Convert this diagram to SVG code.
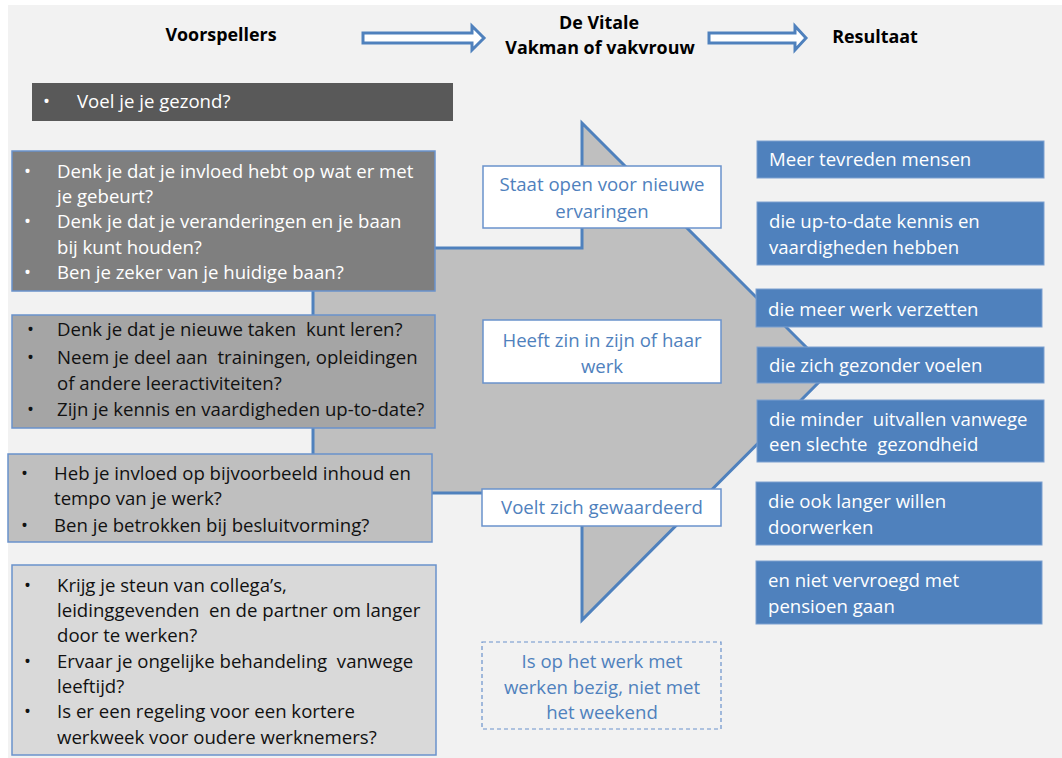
<svg xmlns="http://www.w3.org/2000/svg" width="1062" height="758" viewBox="0 0 1062 758">
<style>
  text { font-family: "Open Sans", "Liberation Sans", sans-serif; font-size: 18.6px; }
  .hd { font-weight: bold; font-size: 17.9px; fill: #000; text-anchor: middle; }
  .w { fill: #ffffff; }
  .k { fill: #111111; }
  .b { fill: #4f81bd; text-anchor: middle; }
  .res rect { fill: #4f81bd; stroke: #7da0d0; stroke-width: 1; }
  .mid rect { fill: #ffffff; stroke: #6a92cc; stroke-width: 1.5; }
  .lb { stroke: #6a92cc; stroke-width: 1.5; }
</style>
<rect x="0" y="0" width="1062" height="758" fill="#ffffff"/>
<rect x="8" y="5" width="1054" height="753" fill="#f2f2f2"/>

<g id="header">
  <text class="hd" x="221" y="41">Voorspellers</text>
  <text class="hd" x="599" y="29">De Vitale</text>
  <text class="hd" x="600" y="54">Vakman of vakvrouw</text>
  <text class="hd" x="875" y="43">Resultaat</text>
</g>

<g id="connectors" fill="#ffffff" stroke="#4f81bd" stroke-width="3" stroke-linejoin="miter">
  <path d="M363,33 H472 V26 L484,38 L472,50 V43 H363 Z"/>
  <path d="M709,33 H795 V26 L806,38 L795,50 V43 H709 Z"/>
</g>

<g id="big-arrow">
  <path d="M313,248 H582 V123 L830,371 L582,620 V493 H313 Z" fill="#bfbfbf" stroke="#4f81bd" stroke-width="3"/>
</g>

<g id="q-gezond">
  <rect x="32" y="83" width="421" height="38" fill="#595959"/>
  <text class="w" x="43" y="108">•</text>
  <text class="w" x="77" y="108">Voel je je gezond?</text>
</g>

<g id="q-box1">
  <rect class="lb" x="12" y="151" width="423" height="140" fill="#7f7f7f"/>
  <text class="w" x="24" y="178">•</text>
  <text class="w" x="57" y="178">Denk je dat je invloed hebt op wat er met</text>
  <text class="w" x="57" y="203">je gebeurt?</text>
  <text class="w" x="24" y="228">•</text>
  <text class="w" x="57" y="228">Denk je dat je veranderingen en je baan</text>
  <text class="w" x="57" y="254">bij kunt houden?</text>
  <text class="w" x="24" y="279">•</text>
  <text class="w" x="57" y="279">Ben je zeker van je huidige baan?</text>
</g>

<g id="q-box2">
  <rect class="lb" x="12" y="315" width="423" height="113" fill="#a5a5a5"/>
  <text class="k" x="27" y="336">•</text>
  <text class="k" x="57" y="336">Denk je dat je  nieuwe taken&#160; kunt leren?</text>
  <text class="k" x="27" y="364">•</text>
  <text class="k" x="57" y="364">Neem je deel aan&#160; trainingen, opleidingen</text>
  <text class="k" x="57" y="390">of andere leeractiviteiten?</text>
  <text class="k" x="27" y="416">•</text>
  <text class="k" x="57" y="416">Zijn je kennis en vaardigheden up-to-date?</text>
</g>

<g id="q-box3">
  <rect class="lb" x="8" y="454" width="424" height="88" fill="#bfbfbf"/>
  <text class="k" x="21" y="480">•</text>
  <text class="k" x="54" y="480">Heb je invloed op bijvoorbeeld inhoud en</text>
  <text class="k" x="54" y="505">tempo van je werk?</text>
  <text class="k" x="21" y="532">•</text>
  <text class="k" x="54" y="532">Ben je betrokken bij besluitvorming?</text>
</g>

<g id="q-box4">
  <rect class="lb" x="12" y="565" width="424" height="190" fill="#d9d9d9"/>
  <text class="k" x="24" y="592">•</text>
  <text class="k" x="57" y="592">Krijg je steun van collega’s,</text>
  <text class="k" x="57" y="617">leidinggevenden&#160; en de partner om langer</text>
  <text class="k" x="57" y="642">door te werken?</text>
  <text class="k" x="24" y="668">•</text>
  <text class="k" x="57" y="668">Ervaar je ongelijke behandeling&#160; vanwege</text>
  <text class="k" x="57" y="693">leeftijd?</text>
  <text class="k" x="24" y="718">•</text>
  <text class="k" x="57" y="718">Is er een regeling voor een kortere</text>
  <text class="k" x="57" y="744">werkweek voor oudere werknemers?</text>
</g>

<g id="mid-open" class="mid">
  <rect x="483" y="166" width="238" height="62"/>
  <text class="b" x="602" y="191">Staat open voor nieuwe</text>
  <text class="b" x="602" y="218">ervaringen</text>
</g>
<g id="mid-zin" class="mid">
  <rect x="483" y="320" width="238" height="63"/>
  <text class="b" x="602" y="347">Heeft zin in zijn of haar</text>
  <text class="b" x="602" y="373">werk</text>
</g>
<g id="mid-gewaardeerd" class="mid">
  <rect x="482" y="489" width="239" height="37"/>
  <text class="b" x="602" y="514">Voelt zich gewaardeerd</text>
</g>
<g id="mid-werk">
  <rect x="482" y="642" width="239" height="87" fill="none" stroke="#6a92cc" stroke-width="1.2" stroke-dasharray="4,3"/>
  <text class="b" x="602" y="668">Is op het werk met</text>
  <text class="b" x="602" y="694">werken bezig, niet met</text>
  <text class="b" x="602" y="719">het weekend</text>
</g>

<g id="res-1" class="res">
  <rect x="757" y="141" width="287" height="37"/>
  <text class="w" x="769" y="166">Meer tevreden mensen</text>
</g>
<g id="res-2" class="res">
  <rect x="757" y="202" width="287" height="63"/>
  <text class="w" x="769" y="228">die up-to-date kennis en</text>
  <text class="w" x="769" y="254">vaardigheden hebben</text>
</g>
<g id="res-3" class="res">
  <rect x="756" y="289" width="286" height="38"/>
  <text class="w" x="768" y="316">die meer werk verzetten</text>
</g>
<g id="res-4" class="res">
  <rect x="757" y="347" width="287" height="36"/>
  <text class="w" x="769" y="372">die zich gezonder voelen</text>
</g>
<g id="res-5" class="res">
  <rect x="757" y="400" width="287" height="62"/>
  <text class="w" x="769" y="426">die minder&#160; uitvallen vanwege</text>
  <text class="w" x="769" y="451">een slechte&#160; gezondheid</text>
</g>
<g id="res-6" class="res">
  <rect x="756" y="482" width="286" height="63"/>
  <text class="w" x="768" y="508">die ook langer willen</text>
  <text class="w" x="768" y="534">doorwerken</text>
</g>
<g id="res-7" class="res">
  <rect x="756" y="561" width="286" height="63"/>
  <text class="w" x="768" y="587">en niet vervroegd met</text>
  <text class="w" x="768" y="613">pensioen gaan</text>
</g>
</svg>
